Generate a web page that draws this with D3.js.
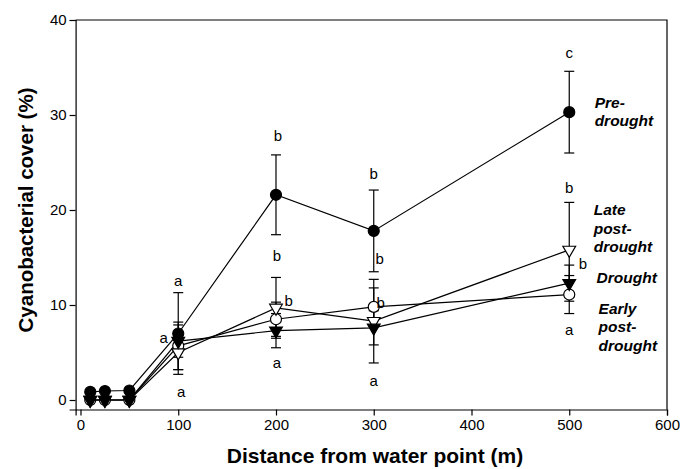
<!DOCTYPE html>
<html>
<head>
<meta charset="utf-8">
<script src="https://cdn.jsdelivr.net/npm/d3@7"></script>
<style>
  html, body { margin: 0; padding: 0; background: #fff; }
  svg { display: block; font-family: "Liberation Sans", Arial, sans-serif; }
</style>
</head>
<body>
<svg id="chart" width="680" height="469"></svg>
<script>
// ---- data ----
const distances = [10, 25, 50, 100, 200, 300, 500];

const preDroughtMean  = [0.85, 0.95, 1.0, 7.0, 21.6, 17.8, 30.3];
const preDroughtErr   = [0, 0, 0, 4.3, 4.2, 4.3, 4.3];
const lateMean        = [0, 0, 0, 5.0, 9.7, 8.3, 15.8];
const lateErr         = [0, 0, 0, 1.8, 3.2, 4.4, 5.0];
const droughtMean     = [0, 0, 0, 6.2, 7.3, 7.6, 12.3];
const droughtErr      = [0, 0, 0, 1.7, 1.8, 1.8, 1.9];
const earlyMean       = [0, 0, 0, 5.7, 8.5, 9.8, 11.1];
const earlyErr        = [0, 0, 0, 2.5, 1.8, 2.0, 2.0];

const xTicks = [0, 100, 200, 300, 400, 500, 600];
const yTicks = [0, 10, 20, 30, 40];

// significance letters (distance, cover, letter)
const sigX = [100, 85, 103, 202, 201, 213, 201, 300, 306, 307, 300, 500, 500, 514, 500];
const sigY = [12.6, 6.6, 0.85, 27.8, 15.2, 10.5, 4.0, 23.8, 14.9, 10.3, 2.1, 36.6, 22.4, 14.4, 7.4];
const sigT = ["a", "a", "a", "b", "b", "b", "a", "b", "b", "b", "a", "c", "b", "b", "a"];

// series labels (text lines, anchored at distance / cover)
const seriesLabelLines = [
  ["Pre-", "drought"],
  ["Late", "post-", "drought"],
  ["Drought"],
  ["Early", "post-", "drought"]
];
const seriesLabelX = [526, 525, 528, 530];
const seriesLabelY = [31.4, 20.1, 12.9, 9.7];

// ---- layout ----
const svg = d3.select("#chart");
const x = d3.scaleLinear().domain([-5, 600]).range([75.6, 667]);
const y = d3.scaleLinear().domain([-1, 40]).range([409.5, 20]);

// frame (top and right)
svg.append("path")
  .attr("d", `M${x(-5)},${y(40)}H${x(600)}V${y(-1)}`)
  .attr("fill", "none").attr("stroke", "#000").attr("stroke-width", 1.2);

// axes
const xAxis = svg.append("g").attr("transform", `translate(0,${y(-1)})`)
  .call(d3.axisBottom(x).tickValues(xTicks).tickSizeOuter(0).tickSize(6).tickPadding(4));
const yAxis = svg.append("g").attr("transform", `translate(${x(-5)},0)`)
  .call(d3.axisLeft(y).tickValues(yTicks).tickSizeOuter(0).tickSize(6).tickPadding(3));
[xAxis, yAxis].forEach(g => {
  g.selectAll("path.domain").attr("stroke", "#000").attr("stroke-width", 1.2);
  g.selectAll(".tick line").attr("stroke", "#000").attr("stroke-width", 1.2);
  g.selectAll(".tick text").attr("fill", "#000").style("font-size", "15px")
    .style("font-family", "'Liberation Sans', Arial, sans-serif");
});

// axis titles
svg.append("text").attr("x", 375).attr("y", 463).attr("text-anchor", "middle")
  .style("font-size", "21px").style("font-weight", "bold").text("Distance from water point (m)");
svg.append("text").attr("transform", `translate(33,${210}) rotate(-90)`).attr("text-anchor", "middle")
  .style("font-size", "20.5px").style("font-weight", "bold").text("Cyanobacterial cover (%)");

// ---- series ----
const series = [
  { mean: preDroughtMean, err: preDroughtErr, shape: "circle", fill: "#000" },
  { mean: lateMean, err: lateErr, shape: "tri", fill: "#fff" },
  { mean: droughtMean, err: droughtErr, shape: "tri", fill: "#000" },
  { mean: earlyMean, err: earlyErr, shape: "circle", fill: "#fff" }
];

const line = d3.line().x(d => x(d.x)).y(d => y(d.y));
series.forEach(s => {
  const pts = distances.map((d, i) => ({ x: d, y: s.mean[i], e: s.err[i] }));
  s.pts = pts;
  svg.append("path").datum(pts).attr("d", line)
    .attr("fill", "none").attr("stroke", "#000").attr("stroke-width", 1.2);
});

// error bars
series.forEach(s => {
  const g = svg.append("g").attr("stroke", "#000").attr("stroke-width", 1.2);
  s.pts.filter(p => p.e > 0).forEach(p => {
    const cx = x(p.x), y1 = y(p.y + p.e), y2 = y(p.y - p.e);
    g.append("line").attr("x1", cx).attr("x2", cx).attr("y1", y1).attr("y2", y2);
    g.append("line").attr("x1", cx - 5).attr("x2", cx + 5).attr("y1", y1).attr("y2", y1);
    g.append("line").attr("x1", cx - 5).attr("x2", cx + 5).attr("y1", y2).attr("y2", y2);
  });
});

// markers: open ones first, filled on top
const symCircle = d3.symbol().type(d3.symbolCircle).size(95);
const symTri = d3.symbol().type(d3.symbolTriangle).size(70);
[3, 1, 2, 0].forEach(k => {
  const s = series[k];
  svg.append("g").selectAll("path").data(s.pts).join("path")
    .attr("d", s.shape === "circle" ? symCircle() : symTri())
    .attr("transform", p => `translate(${x(p.x)},${y(p.y)})` + (s.shape === "tri" ? " rotate(180)" : ""))
    .attr("fill", s.fill).attr("stroke", "#000").attr("stroke-width", 1.2);
});

// significance letters
svg.append("g").selectAll("text").data(sigT).join("text")
  .attr("x", (t, i) => x(sigX[i])).attr("y", (t, i) => y(sigY[i]))
  .attr("text-anchor", "middle").attr("dominant-baseline", "central")
  .style("font-size", "15px").text(t => t);

// series labels
seriesLabelLines.forEach((lines, i) => {
  const t = svg.append("text")
    .attr("x", x(seriesLabelX[i])).attr("y", y(seriesLabelY[i]))
    .attr("dominant-baseline", "central")
    .style("font-size", "15.5px").style("font-weight", "bold").style("font-style", "italic");
  lines.forEach((l, j) => {
    t.append("tspan").attr("x", x(seriesLabelX[i])).attr("dy", j === 0 ? 0 : 18.5).text(l);
  });
});
</script>
</body>
</html>
